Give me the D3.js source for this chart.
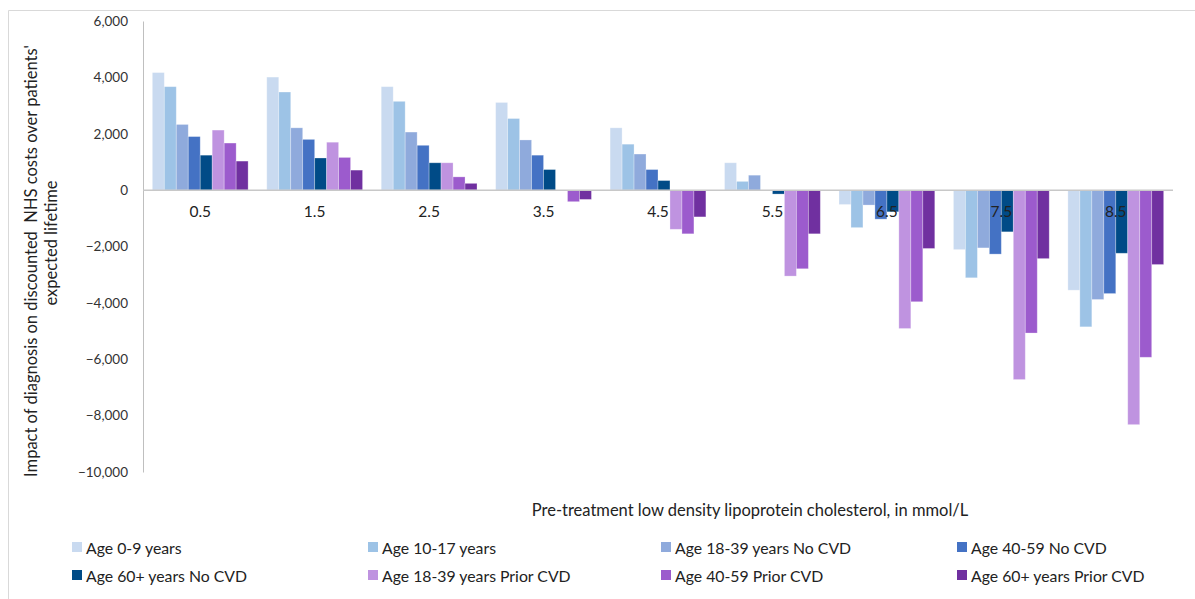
<!DOCTYPE html>
<html>
<head>
<meta charset="utf-8">
<script src="https://cdn.jsdelivr.net/npm/d3@7"></script>
<style>
  html, body { margin: 0; padding: 0; background: #fff; }
  svg { display: block; font-family: Lato, "Open Sans", sans-serif; }
</style>
</head>
<body>
<svg id="chart" width="1195" height="599"></svg>
<script>
const categories = ["0.5", "1.5", "2.5", "3.5", "4.5", "5.5", "6.5", "7.5", "8.5"];
const seriesNames = [
  "Age 0-9 years", "Age 10-17 years", "Age 18-39 years No CVD", "Age 40-59 No CVD",
  "Age 60+ years No CVD", "Age 18-39 years Prior CVD", "Age 40-59 Prior CVD", "Age 60+ years Prior CVD"
];
const age0to9 = [4170, 4010, 3670, 3110, 2210, 970, -510, -2110, -3550];
const age10to17 = [3670, 3480, 3150, 2540, 1630, 310, -1330, -3110, -4850];
const age18to39NoCVD = [2330, 2210, 2060, 1780, 1280, 530, -530, -2050, -3880];
const age40to59NoCVD = [1900, 1800, 1590, 1240, 730, 0, -1030, -2270, -3670];
const age60plusNoCVD = [1240, 1140, 970, 730, 340, -140, -770, -1480, -2240];
const age18to39Prior = [2130, 1700, 970, 0, -1390, -3050, -4910, -6720, -8320];
const age40to59Prior = [1670, 1160, 470, -410, -1550, -2790, -3960, -5070, -5930];
const age60plusPrior = [1030, 710, 240, -330, -950, -1550, -2070, -2430, -2640];
const yTicks = [-10000, -8000, -6000, -4000, -2000, 0, 2000, 4000, 6000];
const colors = ["#c9daf0", "#9dc3e6", "#8faadc", "#4472c4", "#004b87", "#bf93e0", "#9c5bcd", "#7030a0"];

const seriesValues = [age0to9, age10to17, age18to39NoCVD, age40to59NoCVD,
  age60plusNoCVD, age18to39Prior, age40to59Prior, age60plusPrior];

const svg = d3.select("#chart");

// outer frame
svg.append("path")
  .attr("d", "M8.5,599 V10.5 H1195")
  .attr("fill", "none")
  .attr("stroke", "#d9d9d9")
  .attr("stroke-width", 1);

const plotLeft = 143, plotRight = 1173;
const p = 0.163;
const x0 = d3.scaleBand().domain(categories).range([plotLeft, plotRight])
  .paddingInner(p).paddingOuter(p / 2);
const x1 = d3.scaleBand().domain(d3.range(seriesNames.length)).range([0, x0.bandwidth()]);
const y = d3.scaleLinear().domain([-10000, 6000]).range([472, 21]);

// y axis
const yAxis = d3.axisLeft(y).tickValues(yTicks).tickFormat(d3.format(",")).tickSize(0).tickPadding(15);
const gy = svg.append("g").attr("transform", `translate(${plotLeft},0)`).call(yAxis);
gy.select(".domain").attr("stroke", "#bfbfbf").attr("stroke-width", 1);
gy.selectAll("text").attr("font-size", 13.5).attr("fill", "#333").attr("font-family", "Lato, sans-serif");

// bars
const groups = svg.append("g").selectAll("g")
  .data(categories)
  .join("g")
  .attr("transform", d => `translate(${x0(d)},0)`);

groups.selectAll("rect")
  .data((c, ci) => seriesValues.map((vals, si) => ({ si, v: vals[ci] })))
  .join("rect")
  .attr("x", d => x1(d.si))
  .attr("width", x1.bandwidth())
  .attr("y", d => Math.min(y(d.v), y(0)))
  .attr("height", d => Math.abs(y(d.v) - y(0)))
  .attr("fill", d => colors[d.si])
  .attr("stroke", "#ffffff")
  .attr("stroke-opacity", 0.35)
  .attr("stroke-width", 0.8);

// zero line (category axis)
const xAxis = d3.axisBottom(x0).tickSize(0).tickPadding(16);
const gx = svg.append("g").attr("transform", `translate(0,${y(0)})`).call(xAxis);
gx.select(".domain").attr("stroke", "#c8c8c8").attr("stroke-width", 1.5)
  .attr("d", `M${plotLeft},0H${plotRight}`);
gx.selectAll("text").attr("font-size", 15.5).attr("fill", "#222").attr("font-family", "Lato, sans-serif");

// axis titles
svg.append("text")
  .attr("transform", "translate(31,261) rotate(-90)")
  .attr("text-anchor", "middle")
  .attr("dominant-baseline", "central")
  .attr("font-size", 16.5).attr("fill", "#222")
  .attr("xml:space", "preserve")
  .text("Impact of diagnosis on discounted  NHS costs over patients'");
svg.append("text")
  .attr("transform", "translate(51,243) rotate(-90)")
  .attr("text-anchor", "middle")
  .attr("dominant-baseline", "central")
  .attr("font-size", 16.5).attr("fill", "#222")
  .text("expected lifetime");

svg.append("text")
  .attr("x", 750).attr("y", 516)
  .attr("text-anchor", "middle")
  .attr("font-size", 16.5).attr("fill", "#222")
  .text("Pre-treatment low density lipoprotein cholesterol, in mmol/L");

// legend
const legendCols = [72, 368, 661, 957];
const legendRows = [547, 575];
const legend = svg.append("g").selectAll("g")
  .data(seriesNames)
  .join("g")
  .attr("transform", (d, i) => `translate(${legendCols[i % 4]},${legendRows[Math.floor(i / 4)]})`);
legend.append("rect")
  .attr("x", 0).attr("y", -5).attr("width", 10).attr("height", 10)
  .attr("fill", (d, i) => colors[i]);
legend.append("text")
  .attr("x", 14).attr("y", 0)
  .attr("dominant-baseline", "central")
  .attr("font-size", 15.8).attr("fill", "#222")
  .text(d => d);
</script>
</body>
</html>
